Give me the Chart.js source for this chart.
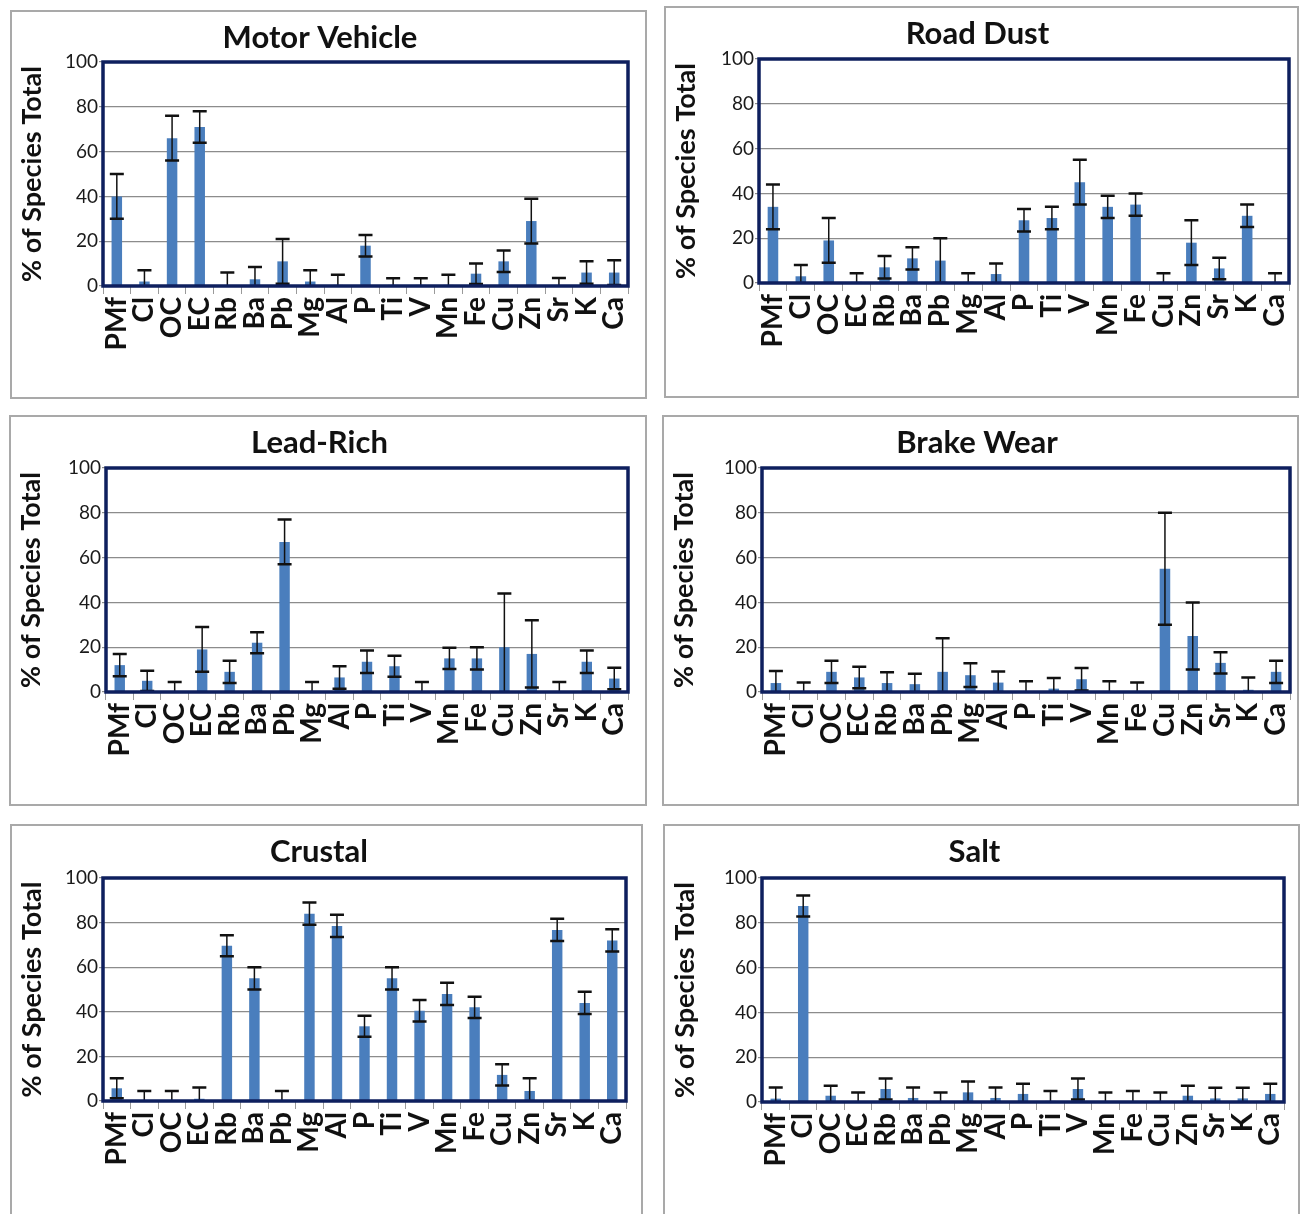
<!DOCTYPE html>
<html>
<head>
<meta charset="utf-8">
<script src="https://cdn.jsdelivr.net/npm/chart.js@4.4.0/dist/chart.umd.min.js"></script>
<style>
  body { margin: 0; background: #fff; width: 1309px; height: 1214px; position: relative; overflow: hidden; }
  .painel { position: absolute; border: 2px solid #a9a9a9; box-sizing: border-box; background: #fff; }
  .painel canvas { position: absolute; left: 0; top: 0; }
</style>
</head>
<body>
<div class="painel" id="p0"><canvas id="c0"></canvas></div>
<div class="painel" id="p1"><canvas id="c1"></canvas></div>
<div class="painel" id="p2"><canvas id="c2"></canvas></div>
<div class="painel" id="p3"><canvas id="c3"></canvas></div>
<div class="painel" id="p4"><canvas id="c4"></canvas></div>
<div class="painel" id="p5"><canvas id="c5"></canvas></div>
<script>
// dados
const especies = ["PMf", "Cl", "OC", "EC", "Rb", "Ba", "Pb", "Mg", "Al", "P", "Ti", "V", "Mn", "Fe", "Cu", "Zn", "Sr", "K", "Ca"];
const titulos = ["Motor Vehicle", "Road Dust", "Lead-Rich", "Brake Wear", "Crustal", "Salt"];
const ticksY = [0, 20, 40, 60, 80, 100];

const motorVehicle = [40, 2, 66, 71, 0, 3, 11, 2, 0.5, 18, 0.5, 0.5, 0.5, 5.5, 11, 29, 0.3, 6, 6];
const motorVehicleErro = [10, 5, 10, 7, 6, 5.5, 10, 5, 4.5, 4.8, 3, 3, 4.5, 4.6, 4.8, 10, 3.3, 5, 5.5];

const roadDust = [34, 3, 19, 0.5, 7, 11, 10, 0.5, 4, 28, 29, 45, 34, 35, 0.5, 18, 6.5, 30, 0.5];
const roadDustErro = [10, 5, 10, 3.8, 5, 5, 10, 3.8, 4.7, 5, 5, 10, 5, 5, 3.8, 10, 4.8, 5, 3.8];

const leadRich = [12, 5, 0, 19, 9, 22, 67, 0, 6.5, 13.5, 11.5, 0, 15, 15, 20, 17, 0, 13.5, 6];
const leadRichErro = [5, 4.5, 4.5, 10, 5, 4.7, 10, 4.5, 5, 5, 4.7, 4.5, 4.7, 5, 24, 15, 4.5, 5, 4.8];

const brakeWear = [4, 0, 9, 6.5, 4, 3.5, 9, 7.5, 4.2, 0, 1.5, 5.7, 0, 0, 55, 25, 13, 1, 9];
const brakeWearErro = [5.4, 4.2, 5, 4.8, 4.8, 4.6, 15, 5.3, 5, 4.8, 4.8, 5, 4.8, 4.2, 25, 15, 4.7, 5.5, 5];

const crustal = [5.7, 0, 0, 1, 69.6, 55, 0, 84, 78.5, 33.5, 55, 40.5, 48, 42, 11.7, 4.5, 76.7, 44, 72];
const crustalErro = [4.5, 4.5, 4.5, 5, 4.7, 5, 4.5, 5, 5, 4.7, 5, 4.8, 5, 4.8, 4.8, 5.7, 5, 5, 5];

const salt = [1.5, 87.5, 2.8, 0, 5.8, 1.8, 0, 4.3, 1.8, 3.6, 0.5, 5.8, 0, 0.3, 0, 2.8, 1.6, 1.6, 3.6];
const saltErro = [5, 4.7, 4.5, 4.2, 4.7, 4.7, 4.2, 4.8, 4.7, 4.6, 4.4, 4.7, 4.2, 4.6, 4.2, 4.5, 4.8, 4.8, 4.6];

const valores = [motorVehicle, roadDust, leadRich, brakeWear, crustal, salt];
const erros = [motorVehicleErro, roadDustErro, leadRichErro, brakeWearErro, crustalErro, saltErro];

// caixa do painel [x, y, w, h] e area do grafico [esq, topo, dir, base] na pagina
const caixas = [
  [10, 10, 637, 389], [664, 6, 635, 392],
  [9, 415, 638, 391], [662, 415, 637, 391],
  [10, 824, 633, 392], [663, 824, 637, 392]
];
const areas = [
  [103, 62, 628, 286], [759, 59, 1289, 283],
  [106, 468, 628, 692], [762, 468, 1290, 692],
  [103, 878, 626, 1101], [762, 878, 1284, 1102]
];

const fonte = "Lato, 'Open Sans', sans-serif";

const barrasDeErro = {
  id: "barrasDeErro",
  afterDatasetsDraw(chart, args, opts) {
    const lista = opts.erros;
    if (!lista) return;
    const { ctx, chartArea, scales: { y } } = chart;
    const meta = chart.getDatasetMeta(0);
    const dados = chart.data.datasets[0].data;
    ctx.save();
    ctx.beginPath();
    ctx.rect(chartArea.left, chartArea.top, chartArea.right - chartArea.left, chartArea.bottom - chartArea.top);
    ctx.clip();
    ctx.strokeStyle = "#111";
    meta.data.forEach((barra, i) => {
      const cima = y.getPixelForValue(dados[i] + lista[i]);
      const baixo = y.getPixelForValue(dados[i] - lista[i]);
      const x = barra.x;
      ctx.lineWidth = 1.5;
      ctx.beginPath();
      ctx.moveTo(x, cima);
      ctx.lineTo(x, baixo);
      ctx.stroke();
      ctx.lineWidth = 2.5;
      ctx.beginPath();
      ctx.moveTo(x - 7, cima);
      ctx.lineTo(x + 7, cima);
      ctx.moveTo(x - 7, baixo);
      ctx.lineTo(x + 7, baixo);
      ctx.stroke();
    });
    ctx.restore();
  }
};

const moldura = {
  id: "moldura",
  afterDraw(chart) {
    const { ctx, chartArea: a } = chart;
    ctx.save();
    ctx.strokeStyle = "#0e1f5e";
    ctx.lineWidth = 3.5;
    ctx.strokeRect(a.left, a.top, a.right - a.left, a.bottom - a.top);
    ctx.restore();
  }
};

function criarPainel(i) {
  const [bx, by, bw, bh] = caixas[i];
  const [esq, topo, dir, base] = areas[i];
  const painel = document.getElementById("p" + i);
  painel.style.left = bx + "px";
  painel.style.top = by + "px";
  painel.style.width = bw + "px";
  painel.style.height = bh + "px";

  const cx = bx + 2, cy = by + 2, cw = bw - 4, ch = bh - 4;
  const canvas = document.getElementById("c" + i);
  canvas.width = cw;
  canvas.height = ch;

  const tamTitulo = 31;
  const padTopo = 7;
  const padBase = (topo - cy) - padTopo - tamTitulo * 1.2;

  new Chart(canvas, {
    type: "bar",
    data: {
      labels: especies,
      datasets: [{
        data: valores[i],
        backgroundColor: "#4a7ebd",
        borderWidth: 0,
        barPercentage: 0.38,
        categoryPercentage: 1
      }]
    },
    options: {
      responsive: false,
      animation: false,
      devicePixelRatio: 1,
      layout: { padding: { left: 0, top: 0, bottom: 0, right: cx + cw - dir } },
      plugins: {
        legend: { display: false },
        tooltip: { enabled: false },
        title: {
          display: true,
          text: titulos[i],
          color: "#111",
          font: { family: fonte, size: tamTitulo, weight: "bold" },
          padding: { top: padTopo, bottom: padBase }
        },
        barrasDeErro: { erros: erros[i] }
      },
      scales: {
        x: {
          grid: { drawOnChartArea: false, drawTicks: true, tickLength: 8, color: "#9a9a9a" },
          border: { display: false },
          ticks: {
            autoSkip: false,
            minRotation: 90,
            maxRotation: 90,
            padding: 3,
            color: "#111",
            font: { family: fonte, size: 28, weight: "bold", lineHeight: 1 }
          },
          afterFit(scale) {
            scale.height = cy + ch - base;
            scale.paddingLeft = 0;
            scale.paddingRight = 0;
          }
        },
        y: {
          min: 0,
          max: 100,
          afterBuildTicks(scale) { scale.ticks = ticksY.map(v => ({ value: v })); },
          grid: { color: "#8c8c8c", lineWidth: 1.2, tickLength: 4 },
          border: { display: false },
          ticks: {
            padding: 1,
            color: "#1a1a1a",
            font: { family: fonte, size: 19 }
          },
          title: {
            display: true,
            text: "% of Species Total",
            color: "#111",
            font: { family: fonte, size: 27, weight: "bold" },
            padding: { top: 4, bottom: 0 }
          },
          afterFit(scale) {
            scale.width = esq - cx;
            scale.paddingTop = 0;
            scale.paddingBottom = 0;
          }
        }
      }
    },
    plugins: [barrasDeErro, moldura]
  });
}

for (let i = 0; i < 6; i++) criarPainel(i);
</script>
</body>
</html>
